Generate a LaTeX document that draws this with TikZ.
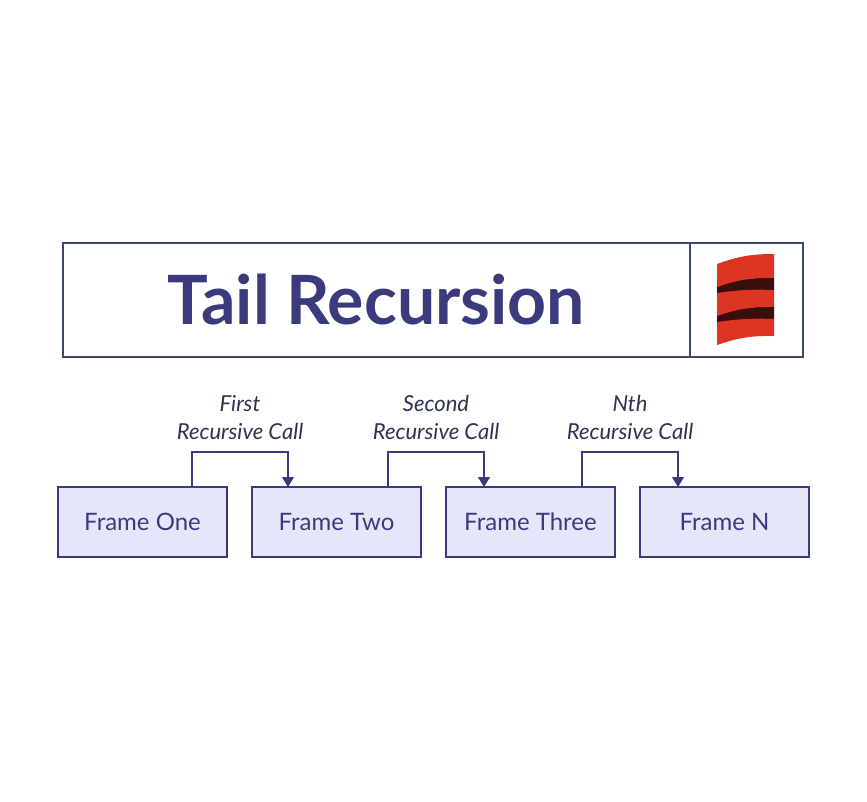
\documentclass[tikz,border=0pt]{standalone}
\usepackage{fontspec}
\setmainfont{Lato}
\usetikzlibrary{positioning,arrows.meta}
\definecolor{ink}{HTML}{3B3A7C}
\definecolor{slate}{HTML}{3D4A6B}
\definecolor{callink}{HTML}{2B3452}
\definecolor{lav}{HTML}{E6E6FA}
\definecolor{scred}{HTML}{DE3423}
\definecolor{scdark}{HTML}{3A0E0B}
\tikzset{
  titlebox/.style={draw=slate, line width=2pt, minimum height=114pt, outer sep=0pt, inner sep=0pt},
  frame/.style={draw=ink, fill=lav, line width=1.4pt, minimum width=169pt, minimum height=70pt,
    outer sep=0pt, inner sep=0pt, text=ink, font=\fontsize{24}{28}\selectfont},
  call/.style={draw=ink, line width=1.4pt, -{Triangle[length=10pt,width=12pt]}},
  calltext/.style={text=callink, align=center, inner sep=0pt, font=\itshape\fontsize{22}{28}\selectfont}
}
\begin{document}
\begin{tikzpicture}[x=1pt, y=-1pt, node distance=25pt, auto]
	\useasboundingbox (0,0) rectangle (867,801);
	\node[titlebox, minimum width=627pt, text=ink, font=\bfseries\fontsize{68}{74}\selectfont] (T) at (376.5,300) {Tail Recursion};
	\node[titlebox, minimum width=113pt, right=0pt of T] (S) {};
	% scala logo
	\fill[scdark] (717,286) to[bend left=10] (774,278) -- (774,291) to[bend right=5] (717,294) -- cycle;
	\fill[scdark] (717,315) to[bend left=10] (774,307) -- (774,320) to[bend right=5] (717,323) -- cycle;
	\fill[scred] (717,264) to[bend left=10] (774,254) -- (774,278) to[bend right=10] (717,287) -- cycle;
	\fill[scred] (717,293) to[bend left=5] (774,290) -- (774,307) to[bend right=10] (717,316) -- cycle;
	\fill[scred] (717,322) to[bend left=5] (774,319) -- (774,336) to[bend right=10] (717,345) -- cycle;
	% frames
	\node[frame] (F1) at (142.5,522) {Frame One};
	\node[frame, right=of F1] (F2) {Frame Two};
	\node[frame, right=of F2] (F3) {Frame Three};
	\node[frame, right=of F3] (F4) {Frame N};
	\draw[call] ([xshift=-35pt]F1.north east) -- ++(0,-35) -| node[pos=0.25, above=12pt, calltext] {First\\Recursive Call} ([xshift=36pt]F2.north west);
	\draw[call] ([xshift=-33pt]F2.north east) -- ++(0,-35) -| node[pos=0.25, above=12pt, calltext] {Second\\Recursive Call} ([xshift=38pt]F3.north west);
	\draw[call] ([xshift=-33pt]F3.north east) -- ++(0,-35) -| node[pos=0.25, above=12pt, calltext] {Nth\\Recursive Call} ([xshift=38pt]F4.north west);
\end{tikzpicture}
\end{document}
